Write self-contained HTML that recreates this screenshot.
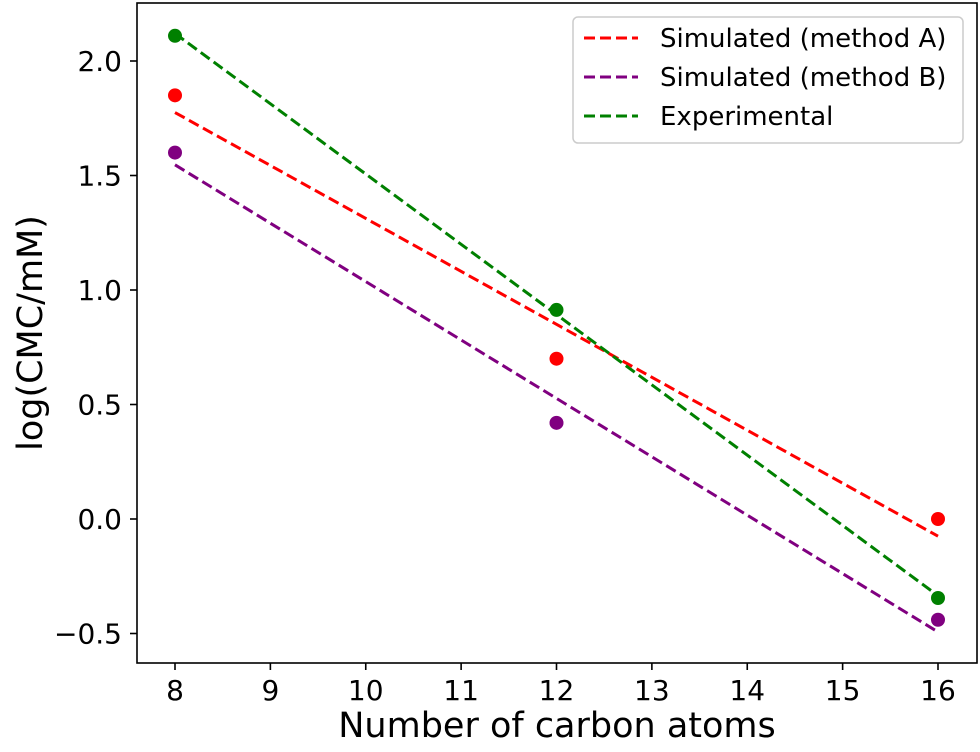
<!DOCTYPE html>
<html><head><meta charset="utf-8"><style>
body{margin:0;background:#fff}
text{font-family:"DejaVu Sans","Liberation Sans",sans-serif;fill:#000}
</style></head><body>
<svg id="chart" width="980" height="747" xmlns="http://www.w3.org/2000/svg"></svg>
<script>
const xTicks=[8,9,10,11,12,13,14,15,16];
const yTicks=[-0.5,0.0,0.5,1.0,1.5,2.0];
const yTickLabels=["\u22120.5","0.0","0.5","1.0","1.5","2.0"];
const carbons=[8,12,16];
const simA=[1.85,0.70,0.0];
const simB=[1.60,0.42,-0.44];
const expt=[2.11,0.913,-0.345];
const seriesNames=["Simulated (method A)","Simulated (method B)","Experimental"];
const colors=["#ff0000","#800080","#008000"];

const L=137,R=977,T=3,B=663;
const xs=v=>175+(v-8)*(938-175)/8;
const ys=v=>519-v*229;
const svg=document.getElementById('chart');
const NS="http://www.w3.org/2000/svg";
function mk(tag,attrs,parent){const e=document.createElementNS(NS,tag);for(const k in attrs)e.setAttribute(k,attrs[k]);(parent||svg).appendChild(e);return e;}

const frame=mk('rect',{x:L,y:T,width:R-L,height:B-T,fill:'none',stroke:'#000','stroke-width':1.6});



xTicks.forEach(t=>{
  const g=mk('g',{});
  
  
  mk('line',{x1:xs(t),x2:xs(t),y1:B,y2:B+7,stroke:'#000','stroke-width':1.6},g);
  const tx=mk('text',{x:xs(t),y:B+37,'text-anchor':'middle','font-size':28},g);tx.textContent=t;
});
yTicks.forEach((t,i)=>{
  const g=mk('g',{});
  
  
  mk('line',{x1:L-7,x2:L,y1:ys(t),y2:ys(t),stroke:'#000','stroke-width':1.6},g);
  const tx=mk('text',{x:L-15,y:ys(t)+10,'text-anchor':'end','font-size':28},g);tx.textContent=yTickLabels[i];
});
const xl=mk('text',{x:(L+R)/2,y:737,'text-anchor':'middle','font-size':35});
xl.textContent='Number of carbon atoms';


const yl=mk('text',{x:0,y:0,'text-anchor':'middle','font-size':35,transform:'translate(42,333) rotate(-90)'});
yl.textContent='log(CMC/mM)';



function fit(xv,yv){const n=xv.length;const mx=xv.reduce((a,b)=>a+b)/n,my=yv.reduce((a,b)=>a+b)/n;let sxy=0,sxx=0;for(let i=0;i<n;i++){sxy+=(xv[i]-mx)*(yv[i]-my);sxx+=(xv[i]-mx)**2;}const m=sxy/sxx;return [m,my-m*mx];}

[simA,simB,expt].forEach((s,k)=>{
  const g=mk('g',{});
  
  
  const [m,c]=fit(carbons,s);
  const x0=carbons[0],x1=carbons[carbons.length-1];
  const ln=mk('line',{x1:xs(x0),y1:ys(m*x0+c),x2:xs(x1),y2:ys(m*x1+c),stroke:colors[k],'stroke-width':3,'stroke-dasharray':'11,5'},g);
  
  
  s.forEach((v,i)=>{
    const p=mk('circle',{cx:xs(carbons[i]),cy:ys(v),r:7,fill:colors[k]},g);
    
    
  });
});

const lg=mk('g',{});


mk('rect',{x:573,y:17,width:390,height:126,rx:5,fill:'#fff',stroke:'#ccc','stroke-width':1.5},lg);
seriesNames.forEach((n,i)=>{
  const e=mk('g',{},lg);
  
  
  const y=38+i*39;
  mk('line',{x1:584,x2:638,y1:y,y2:y,stroke:colors[i],'stroke-width':3,'stroke-dasharray':'11,5'},e);
  const t=mk('text',{x:660,y:y+9,'font-size':26},e);t.textContent=n;
});
</script>
</body></html>
